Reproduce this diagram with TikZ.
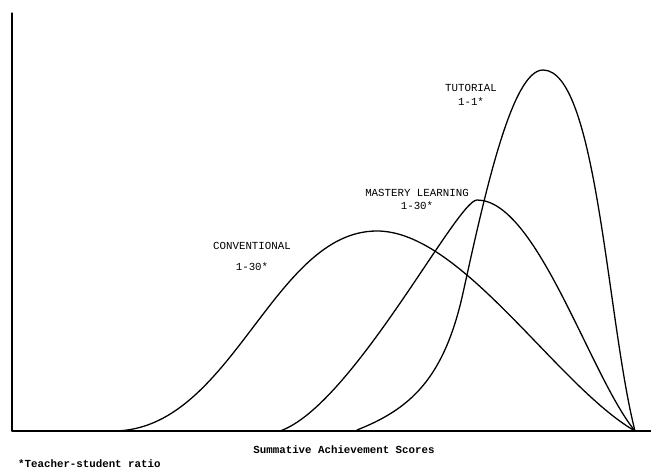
\documentclass[tikz,border=0pt]{standalone}
\usepackage{fontspec}
\setmonofont{Liberation Mono}
\begin{document}
\begin{tikzpicture}[line cap=round,line join=round,x=0.03cm,y=0.03cm,
    curve/.style={line width=1.1pt,color=black},
    lbl/.style={font=\fontsize{9.2}{11.5}\selectfont\ttfamily,align=center,inner sep=0pt}]
      \useasboundingbox (-12,-41) rectangle (639,431);
      \coordinate (ytop) at (0,418);
      \coordinate (orig) at (0,0);
      \coordinate (xend) at (639,0);
      \coordinate (tail) at (623,0);
      \draw[line width=1pt,color=black] (ytop) -- (orig) -- (xend);
      % conventional
      \coordinate (convstart) at (101,0);
      \coordinate (convtop) at (365,200);
      \draw[curve] (convstart) .. controls (220,0) and (260,200) .. (convtop)
                   .. controls (450,200) and (545,45) .. (tail);
      % mastery learning
      \coordinate (maststart) at (268,0);
      \coordinate (masttop) at (465,231);
      \draw[curve] (maststart) .. controls (340,25) and (445,231) .. (masttop)
                   .. controls (525,231) and (578,55) .. (tail);
      % tutorial
      \coordinate (tutstart) at (345,1);
      \coordinate (tutmid) at (451,138);
      \coordinate (tuttop) at (531,361);
      \draw[curve] (tutstart) .. controls (398,22) and (432,52) .. (tutmid)
                   .. controls (473,238) and (500,361) .. (tuttop)
                   .. controls (585,361) and (595,110) .. (tail);
      \node[lbl] (tut) at (459,336) {TUTORIAL\\1-1*};
      \node[lbl] (mast) at (405,231.5) {MASTERY LEARNING\\1-30*};
      \node[lbl] (conv) at (240,174.5) {CONVENTIONAL\\[7pt]1-30*};
      \node[lbl,font=\fontsize{9.2}{11.5}\selectfont\ttfamily\bfseries] (xlab) at (332,-19) {Summative Achievement Scores};
      \node[lbl,anchor=west,font=\fontsize{9.2}{11.5}\selectfont\ttfamily\bfseries] (foot) at (6,-33) {*Teacher-student ratio};
    \end{tikzpicture}
\end{document}
